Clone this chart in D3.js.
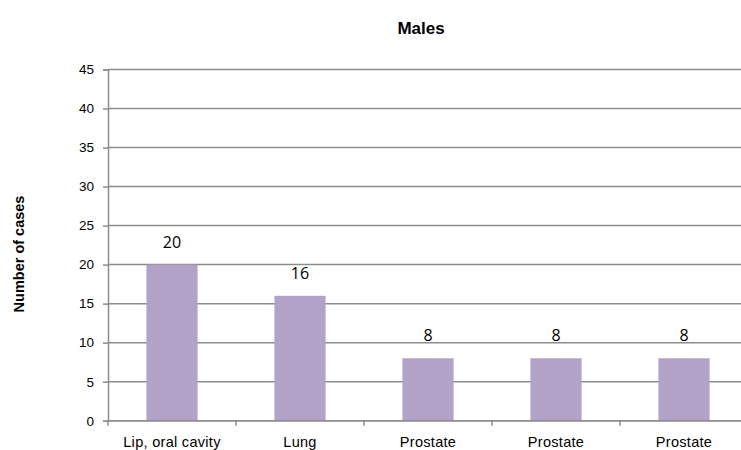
<!DOCTYPE html>
<html>
<head>
<meta charset="utf-8">
<script src="https://cdn.jsdelivr.net/npm/d3@7"></script>
<style>
  body { margin: 0; background: #fff; }
  svg { display: block; }
</style>
</head>
<body>
<script>
// data
var categories = ["Lip, oral cavity", "Lung", "Prostate", "Prostate", "Prostate"];
var cases = [20, 16, 8, 8, 8];
var yTicks = [0, 5, 10, 15, 20, 25, 30, 35, 40, 45];

var w = 741, h = 450;
var plotLeft = 108, plotRight = 748, plotTop = 69.5, plotBottom = 420.7;

var svg = d3.select("body").append("svg")
    .attr("width", w)
    .attr("height", h);

var idx = d3.range(categories.length);

var xScale = d3.scaleBand()
    .domain(idx)
    .range([plotLeft, plotRight])
    .paddingInner(0.6)
    .paddingOuter(0.3);

var yScale = d3.scaleLinear()
    .domain([0, 45])
    .range([plotBottom, plotTop]);

// gridlines
svg.append("g")
    .selectAll("line")
    .data(yTicks)
    .enter()
    .append("line")
    .attr("x1", plotLeft)
    .attr("x2", plotRight)
    .attr("y1", function(d) { return yScale(d); })
    .attr("y2", function(d) { return yScale(d); })
    .attr("stroke", "#8c8c8c")
    .attr("stroke-width", 1.5);

// y axis
var yAxis = svg.append("g")
    .attr("transform", "translate(" + plotLeft + ",0)")
    .call(d3.axisLeft(yScale).tickValues(yTicks).tickSize(5).tickPadding(9));
yAxis.select(".domain").attr("stroke", "#8c8c8c").attr("stroke-width", 1.5);
yAxis.selectAll(".tick line").attr("stroke", "#8c8c8c").attr("stroke-width", 1.5);
yAxis.selectAll("text")
    .attr("font-family", "Liberation Sans, Arial, sans-serif")
    .attr("font-size", 13.5)
    .attr("fill", "#000");

// x axis tick marks at band boundaries
var step = xScale.step();
var bounds = d3.range(categories.length + 1).map(function(i) { return plotLeft + i * step; });
svg.append("g")
    .selectAll("line")
    .data(bounds)
    .enter()
    .append("line")
    .attr("x1", function(d) { return d; })
    .attr("x2", function(d) { return d; })
    .attr("y1", plotBottom)
    .attr("y2", plotBottom + 5)
    .attr("stroke", "#8c8c8c")
    .attr("stroke-width", 1.5);

// bars
svg.append("g")
    .selectAll("rect")
    .data(cases)
    .enter()
    .append("rect")
    .attr("x", function(d, i) { return xScale(i); })
    .attr("y", function(d) { return yScale(d); })
    .attr("width", xScale.bandwidth())
    .attr("height", function(d) { return plotBottom - yScale(d); })
    .attr("fill", "#b3a2c7");

// x axis line on top of bars
svg.append("line")
    .attr("x1", plotLeft)
    .attr("x2", plotRight)
    .attr("y1", plotBottom)
    .attr("y2", plotBottom)
    .attr("stroke", "#8c8c8c")
    .attr("stroke-width", 1.5);

// data labels
svg.append("g")
    .selectAll("text")
    .data(cases)
    .enter()
    .append("text")
    .attr("x", function(d, i) { return xScale(i) + xScale.bandwidth() / 2; })
    .attr("y", function(d) { return yScale(d) - 17; })
    .attr("text-anchor", "middle")
    .attr("font-family", "Open Sans, sans-serif")
    .attr("font-size", 16)
    .attr("fill", "#000")
    .text(function(d) { return d; });

// category labels
svg.append("g")
    .selectAll("text")
    .data(categories)
    .enter()
    .append("text")
    .attr("x", function(d, i) { return xScale(i) + xScale.bandwidth() / 2; })
    .attr("y", 447)
    .attr("text-anchor", "middle")
    .attr("font-family", "Liberation Sans, Arial, sans-serif")
    .attr("font-size", 14.5)
    .attr("letter-spacing", 0.3)
    .attr("fill", "#000")
    .text(function(d) { return d; });

// title
svg.append("text")
    .attr("x", 421)
    .attr("y", 34)
    .attr("text-anchor", "middle")
    .attr("font-family", "Liberation Sans, Arial, sans-serif")
    .attr("font-weight", "bold")
    .attr("font-size", 17)
    .text("Males");

// y axis title
svg.append("text")
    .attr("transform", "translate(24,254) rotate(-90)")
    .attr("text-anchor", "middle")
    .attr("font-family", "Liberation Sans, Arial, sans-serif")
    .attr("font-weight", "bold")
    .attr("font-size", 14.5)
    .text("Number of cases");
</script>
</body>
</html>
